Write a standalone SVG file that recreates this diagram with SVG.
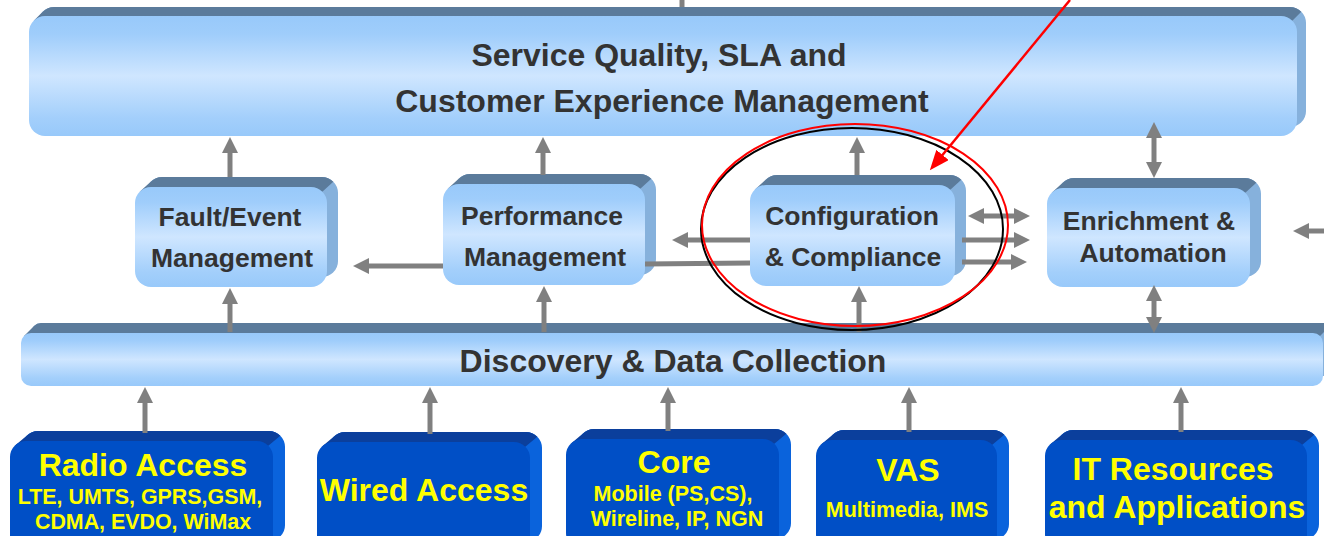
<svg xmlns="http://www.w3.org/2000/svg" width="1324" height="536" viewBox="0 0 1324 536">
<defs>
<linearGradient id="lb" x1="0" y1="0" x2="0" y2="1">
<stop offset="0" stop-color="#98c9fa"/>
<stop offset="0.15" stop-color="#9fcdfb"/>
<stop offset="0.5" stop-color="#cfe6ff"/>
<stop offset="0.85" stop-color="#a3cffb"/>
<stop offset="1" stop-color="#98c9fa"/>
</linearGradient>
<marker id="ah" viewBox="0 0 16 16" refX="3" refY="8" markerWidth="16" markerHeight="16" markerUnits="userSpaceOnUse" orient="auto-start-reverse">
<path d="M0,0 L16,8 L0,16 Z" fill="#808080"/>
</marker>
<marker id="rh" viewBox="0 0 20 16" refX="4" refY="8" markerWidth="20" markerHeight="16" markerUnits="userSpaceOnUse" orient="auto">
<path d="M0,0 L20,8 L0,16 Z" fill="#ff0000"/>
</marker>
<style>
.lside{fill:#86b1dc}
.ltop{fill:#5b7b9b}
.lfront{fill:url(#lb)}
.bside{fill:#0a63dc}
.btop{fill:#0b3f9c}
.bfront{fill:#004fc6}
.t{font-family:"Liberation Sans",Arial,sans-serif;font-weight:bold;fill:#333333;text-anchor:middle}
.y{font-family:"Liberation Sans",Arial,sans-serif;font-weight:bold;fill:#ffff00;text-anchor:middle}
.c{stroke:#808080;stroke-width:5;fill:none}
</style>
</defs>

<g id="connectors">
<line class="c" x1="682" y1="0" x2="682" y2="14"/>
</g>

<g id="top-bar">
<rect class="lside" x="38" y="7" width="1268" height="120" rx="16"/>
<path class="ltop" d="M33.7,20.7 L42.7,11.7 A16 16 0 0 1 54,7 H1290 A16 16 0 0 1 1301.3,11.7 L1292.3,20.7 Z"/>
<rect class="lfront" x="29" y="16" width="1268" height="120" rx="16"/>
<text class="t" font-size="32" x="659" y="66">Service Quality, SLA and</text>
<text class="t" font-size="32" x="662" y="112">Customer Experience Management</text>
</g>

<g id="discovery">
<rect class="lside" x="31" y="323" width="1302" height="53" rx="10"/>
<path class="ltop" d="M24,336 L34,326 A10 10 0 0 1 41,323 H1323 A10 10 0 0 1 1330,326 L1320,336 Z"/>
<rect class="lfront" x="21" y="333" width="1302" height="53" rx="10"/>
<text class="t" font-size="32" x="673" y="372">Discovery &amp; Data Collection</text>
</g>

<g id="fault">
<rect class="lside" x="146" y="177" width="192" height="100" rx="16"/>
<path class="ltop" d="M139.7,191.7 L150.7,181.7 A16 16 0 0 1 162,177 H322 A16 16 0 0 1 333.3,181.7 L322.3,191.7 Z"/>
<rect class="lfront" x="135" y="187" width="192" height="100" rx="16"/>
<text class="t" font-size="26.5" x="230" y="226">Fault/Event</text>
<text class="t" font-size="26.5" x="232" y="267">Management</text>
</g>

<g id="performance">
<rect class="lside" x="454" y="174" width="202" height="101" rx="16"/>
<path class="ltop" d="M447.7,188.7 L458.7,178.7 A16 16 0 0 1 470,174 H640 A16 16 0 0 1 651.3,178.7 L640.3,188.7 Z"/>
<rect class="lfront" x="443" y="184" width="202" height="101" rx="16"/>
<text class="t" font-size="26.5" x="542" y="225">Performance</text>
<text class="t" font-size="26.5" x="545" y="266">Management</text>
</g>

<g id="configuration">
<rect class="lside" x="761" y="175" width="205" height="101" rx="16"/>
<path class="ltop" d="M754.7,189.7 L765.7,179.7 A16 16 0 0 1 777,175 H950 A16 16 0 0 1 961.3,179.7 L950.3,189.7 Z"/>
<rect class="lfront" x="750" y="185" width="205" height="101" rx="16"/>
<text class="t" font-size="26.5" x="852" y="225">Configuration</text>
<text class="t" font-size="26.5" x="853" y="266">&amp; Compliance</text>
</g>

<g id="enrichment">
<rect class="lside" x="1058" y="178" width="203" height="99" rx="16"/>
<path class="ltop" d="M1051.7,192.7 L1062.7,182.7 A16 16 0 0 1 1074,178 H1245 A16 16 0 0 1 1256.3,182.7 L1245.3,192.7 Z"/>
<rect class="lfront" x="1047" y="188" width="203" height="99" rx="16"/>
<text class="t" font-size="26.5" x="1149" y="230">Enrichment &amp;</text>
<text class="t" font-size="26.5" x="1153" y="262">Automation</text>
</g>

<g id="radio">
<rect class="bside" x="22" y="431" width="263" height="110" rx="16"/>
<path class="btop" d="M14.7,445.7 L26.7,435.7 A16 16 0 0 1 38,431 H269 A16 16 0 0 1 280.3,435.7 L268.3,445.7 Z"/>
<rect class="bfront" x="10" y="441" width="263" height="110" rx="16"/>
<text class="y" font-size="32" x="143" y="476">Radio Access</text>
<text class="y" font-size="21.4" x="140" y="504">LTE, UMTS, GPRS,GSM,</text>
<text class="y" font-size="21.4" x="143" y="529">CDMA, EVDO, WiMax</text>
</g>

<g id="wired">
<rect class="bside" x="329" y="432" width="213" height="110" rx="16"/>
<path class="btop" d="M321.7,446.7 L333.7,436.7 A16 16 0 0 1 345,432 H526 A16 16 0 0 1 537.3,436.7 L525.3,446.7 Z"/>
<rect class="bfront" x="317" y="442" width="213" height="110" rx="16"/>
<text class="y" font-size="32" x="424" y="501">Wired Access</text>
</g>

<g id="core">
<rect class="bside" x="578" y="429" width="213" height="110" rx="16"/>
<path class="btop" d="M570.7,443.7 L582.7,433.7 A16 16 0 0 1 594,429 H775 A16 16 0 0 1 786.3,433.7 L774.3,443.7 Z"/>
<rect class="bfront" x="566" y="439" width="213" height="110" rx="16"/>
<text class="y" font-size="32" x="674" y="473">Core</text>
<text class="y" font-size="21.5" x="673" y="501">Mobile (PS,CS),</text>
<text class="y" font-size="21.5" x="677" y="526">Wireline, IP, NGN</text>
</g>

<g id="vas">
<rect class="bside" x="828" y="430" width="181" height="110" rx="16"/>
<path class="btop" d="M820.7,444.7 L832.7,434.7 A16 16 0 0 1 844,430 H993 A16 16 0 0 1 1004.3,434.7 L992.3,444.7 Z"/>
<rect class="bfront" x="816" y="440" width="181" height="110" rx="16"/>
<text class="y" font-size="32" x="908" y="481">VAS</text>
<text class="y" font-size="21.5" x="907" y="517">Multimedia, IMS</text>
</g>

<g id="it">
<rect class="bside" x="1057" y="430" width="262" height="110" rx="16"/>
<path class="btop" d="M1049.7,444.7 L1061.7,434.7 A16 16 0 0 1 1073,430 H1303 A16 16 0 0 1 1314.3,434.7 L1302.3,444.7 Z"/>
<rect class="bfront" x="1045" y="440" width="262" height="110" rx="16"/>
<text class="y" font-size="32" x="1173" y="480">IT Resources</text>
<text class="y" font-size="32" x="1177" y="518">and Applications</text>
</g>

<g id="arrows">
<line class="c" x1="230" y1="177" x2="230" y2="150" marker-end="url(#ah)"/>
<line class="c" x1="543" y1="175" x2="543" y2="150" marker-end="url(#ah)"/>
<line class="c" x1="857" y1="175" x2="857" y2="150" marker-end="url(#ah)"/>
<line class="c" x1="1154" y1="135" x2="1154" y2="165" marker-start="url(#ah)" marker-end="url(#ah)"/>
<line class="c" x1="230" y1="332" x2="230" y2="301" marker-end="url(#ah)"/>
<line class="c" x1="544" y1="332" x2="544" y2="299" marker-end="url(#ah)"/>
<line class="c" x1="859" y1="332" x2="859" y2="299" marker-end="url(#ah)"/>
<line class="c" x1="1154" y1="298" x2="1154" y2="320" marker-start="url(#ah)" marker-end="url(#ah)"/>
<line class="c" x1="443" y1="266" x2="366" y2="266" marker-end="url(#ah)"/>
<line class="c" x1="750" y1="240" x2="685" y2="240" marker-end="url(#ah)"/>
<line class="c" x1="645" y1="264" x2="750" y2="263"/>
<line class="c" x1="981" y1="216" x2="1017" y2="216" marker-start="url(#ah)" marker-end="url(#ah)"/>
<line class="c" x1="962" y1="240" x2="1017" y2="240" marker-end="url(#ah)"/>
<line class="c" x1="962" y1="262" x2="1014" y2="262" marker-end="url(#ah)"/>
<line class="c" x1="1330" y1="231" x2="1306" y2="231" marker-end="url(#ah)"/>
<line class="c" x1="145" y1="433" x2="145" y2="400" marker-end="url(#ah)"/>
<line class="c" x1="430" y1="434" x2="430" y2="400" marker-end="url(#ah)"/>
<line class="c" x1="668" y1="431" x2="668" y2="400" marker-end="url(#ah)"/>
<line class="c" x1="909" y1="432" x2="909" y2="400" marker-end="url(#ah)"/>
<line class="c" x1="1181" y1="432" x2="1181" y2="400" marker-end="url(#ah)"/>
</g>

<g id="highlight">
<ellipse cx="852" cy="229" rx="151" ry="101" fill="none" stroke="#000000" stroke-width="2"/>
<ellipse cx="855" cy="225" rx="153" ry="101" fill="none" stroke="#ff0000" stroke-width="2"/>
<line x1="1070" y1="0" x2="940" y2="158" stroke="#ff0000" stroke-width="2.5" marker-end="url(#rh)"/>
</g>
</svg>
